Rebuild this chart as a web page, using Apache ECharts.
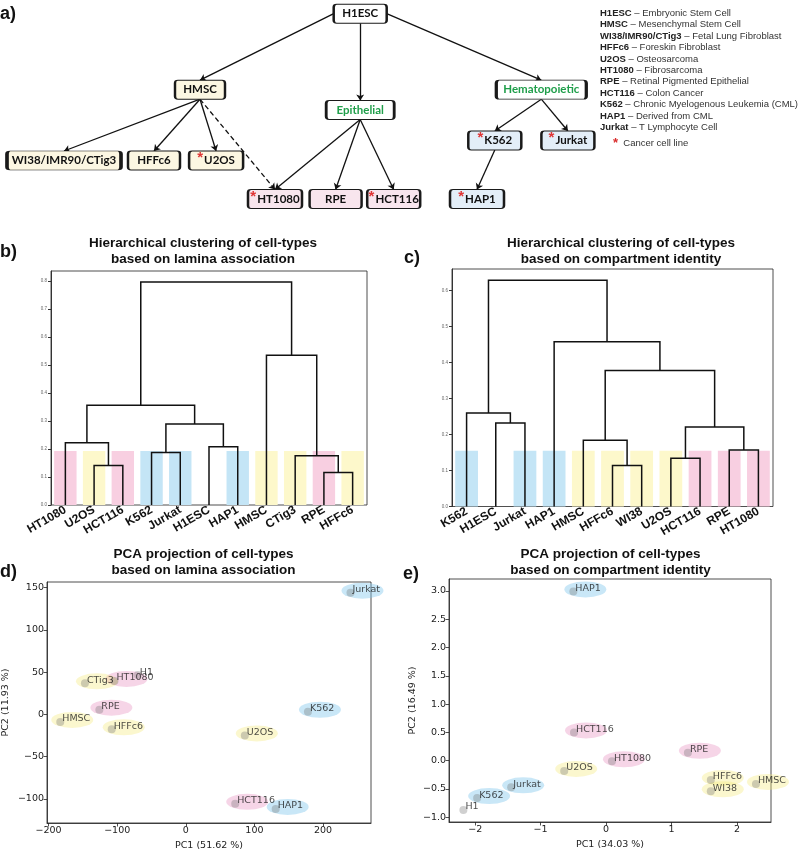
<!DOCTYPE html>
<html><head><meta charset="utf-8">
<script src="https://cdn.jsdelivr.net/npm/echarts@6/dist/echarts.min.js"></script>
<style>html,body{margin:0;padding:0;background:#fff}#c{width:800px;height:853px}</style>
</head><body><div id="c"></div>
<script>
// ================= DATA =================
// Panel a: lineage tree
const treeNodes  = ['H1ESC','HMSC','Epithelial','Hematopoietic','WI38/IMR90/CTig3','HFFc6','U2OS','HT1080','RPE','HCT116','K562','Jurkat','HAP1'];
const treeGroups = ['root','mes','epiGroup','hemGroup','mes','mes','mes','epi','epi','epi','hem','hem','hem'];
const treeCancer = [0,0,0,0,0,0,1,1,0,1,1,1,1];
const treeEdges  = [['H1ESC','HMSC'],['H1ESC','Epithelial'],['H1ESC','Hematopoietic'],
  ['HMSC','WI38/IMR90/CTig3'],['HMSC','HFFc6'],['HMSC','U2OS'],['HMSC','HT1080'],
  ['Epithelial','HT1080'],['Epithelial','RPE'],['Epithelial','HCT116'],
  ['Hematopoietic','K562'],['Hematopoietic','Jurkat'],['K562','HAP1']];
const treeEdgeDashed = [0,0,0,0,0,0,1,0,0,0,0,0,0];
const legendNames = ['H1ESC','HMSC','WI38/IMR90/CTig3','HFFc6','U2OS','HT1080','RPE','HCT116','K562','HAP1','Jurkat'];
const legendDescs = ['Embryonic Stem Cell','Mesenchymal Stem Cell','Fetal Lung Fibroblast','Foreskin Fibroblast','Osteosarcoma','Fibrosarcoma','Retinal Pigmented Epithelial','Colon Cancer','Chronic Myelogenous Leukemia (CML)','Derived from CML','T Lymphocyte Cell'];

// Panel b: dendrogram (lamina association)
const lamLeaves = ['HT1080','U2OS','HCT116','K562','Jurkat','H1ESC','HAP1','HMSC','CTig3','RPE','HFFc6'];
const lamLeafGroups = ['epi','mes','epi','hem','hem','none','hem','mes','mes','epi','mes'];
const lamMerges = [
  ['m1','U2OS','HCT116',0.141], ['m2','HT1080','m1',0.2225], ['m3','K562','Jurkat',0.187],
  ['m4','H1ESC','HAP1',0.208], ['m5','m3','m4',0.289], ['m6','m2','m5',0.356],
  ['m7','RPE','HFFc6',0.116], ['m8','CTig3','m7',0.176], ['m9','HMSC','m8',0.534], ['m10','m6','m9',0.796]];
const lamBandHeight = 0.193;
const lamTicks = [0,0.1,0.2,0.3,0.4,0.5,0.6,0.7,0.8];

// Panel c: dendrogram (compartment identity)
const cmpLeaves = ['K562','H1ESC','Jurkat','HAP1','HMSC','HFFc6','WI38','U2OS','HCT116','RPE','HT1080'];
const cmpLeafGroups = ['hem','none','hem','hem','mes','mes','mes','mes','epi','epi','epi'];
const cmpMerges = [
  ['n1','HFFc6','WI38',0.114], ['n2','HMSC','n1',0.184], ['n3','U2OS','HCT116',0.134],
  ['n4','RPE','HT1080',0.157], ['n5','n3','n4',0.221], ['n6','n2','n5',0.378],
  ['n7','HAP1','n6',0.458], ['n8','H1ESC','Jurkat',0.232], ['n9','K562','n8',0.26], ['n10','n9','n7',0.629]];
const cmpBandHeight = 0.155;
const cmpTicks = [0,0.1,0.2,0.3,0.4,0.5,0.6];

// Panel d: PCA (lamina association)
const pcaLamNames  = ['Jurkat','H1','HT1080','CTig3','RPE','HMSC','HFFc6','U2OS','K562','HCT116','HAP1'];
const pcaLamGroups = ['hem','none','epi','mes','epi','mes','mes','mes','hem','epi','hem'];
const pcaLamX = [240, -70, -104, -147, -126, -183, -108, 86, 178, 72, 131];
const pcaLamY = [144, 46.4, 39.5, 36.6, 5.5, -9, -17.7, -25, 3, -106, -112];
const pcaLamXTicks = [-200,-100,0,100,200];
const pcaLamYTicks = [-100,-50,0,50,100,150];

// Panel e: PCA (compartment identity)
const pcaCmpNames  = ['HAP1','HCT116','RPE','HT1080','U2OS','Jurkat','K562','H1','HFFc6','WI38','HMSC'];
const pcaCmpGroups = ['hem','epi','epi','epi','mes','hem','hem','none','mes','mes','mes'];
const pcaCmpX = [-0.50, -0.49, 1.25, 0.09, -0.64, -1.45, -1.97, -2.18, 1.60, 1.60, 2.29];
const pcaCmpY = [2.99, 0.50, 0.14, -0.01, -0.18, -0.47, -0.66, -0.87, -0.34, -0.54, -0.41];
const pcaCmpXTicks = [-2,-1,0,1,2];
const pcaCmpYTicks = [-1,-0.5,0,0.5,1,1.5,2,2.5,3];

// ================= STYLE / LAYOUT =================
const treeLayout = { // centre x, centre y, box width (diagram pixels)
  'H1ESC':[360.2,13.7,53], 'HMSC':[200,89.7,50], 'Epithelial':[360.2,110,68], 'Hematopoietic':[541.3,89.7,90],
  'WI38/IMR90/CTig3':[64,160.5,114], 'HFFc6':[154,160.5,52], 'U2OS':[216.1,160.5,54],
  'HT1080':[275,199,54], 'RPE':[335.6,199,52], 'HCT116':[393.7,199,53],
  'K562':[494.8,140.5,53], 'Jurkat':[567.9,140.5,53], 'HAP1':[477,199,54]
};
const boxH = 19;
const boxFill = {root:'#ffffff', mes:'#fcf7e2', epiGroup:'#ffffff', hemGroup:'#ffffff', epi:'#f8e5ed', hem:'#e3eef8'};
const bandColor = {mes:'#fdf8cb', epi:'#f8cfe1', hem:'#c4e5f6', none:'rgba(0,0,0,0)'};
const ellColor = {mes:'rgba(245,232,120,0.45)', epi:'rgba(232,150,195,0.5)', hem:'rgba(120,195,235,0.5)', none:'rgba(0,0,0,0)'};
const FONT = 'Liberation Sans';
const minus = s => String(s).replace('-', '\u2212');
function roundBox(w, h, r) {
  return 'path://M' + r + ',0H' + (w - r) + 'Q' + w + ',0,' + w + ',' + r + 'V' + (h - r) +
    'Q' + w + ',' + h + ',' + (w - r) + ',' + h + 'H' + r + 'Q0,' + h + ',0,' + (h - r) + 'V' + r + 'Q0,0,' + r + ',0Z';
}

// ================= BUILD =================
function dendroLines(leaves, merges) {
  const pos = {}, hgt = {};
  leaves.forEach((l, i) => { pos[l] = i; hgt[l] = 0; });
  return merges.map(([id, a, b, h]) => {
    pos[id] = (pos[a] + pos[b]) / 2; hgt[id] = h;
    return { coords: [[pos[a], hgt[a]], [pos[a], h], [pos[b], h], [pos[b], hgt[b]]] };
  });
}

const treeScatter = treeNodes.map((n, i) => {
  const L = treeLayout[n], g = treeGroups[i];
  const tag = (g === 'epiGroup' || g === 'hemGroup') ? 'g' : 't';
  return {
    name: n, value: [L[0], L[1]], symbol: roundBox(L[2], boxH, 3), symbolSize: [L[2], boxH],
    itemStyle: { color: boxFill[g] },
    label: { formatter: (treeCancer[i] ? '{s|*}' : '') + '{' + tag + '|' + n + '}' }
  };
});
const treeLines = treeEdges.map(([a, b], i) => {
  const A = treeLayout[a], B = treeLayout[b];
  let start;
  if (a === 'H1ESC' && Math.abs(B[0] - A[0]) > A[2]) start = [A[0] + Math.sign(B[0] - A[0]) * A[2] / 2, A[1]];
  else start = [A[0], A[1] + boxH / 2];
  return { coords: [start, [B[0], B[1] - boxH / 2]], lineStyle: { type: treeEdgeDashed[i] ? [5, 3] : 'solid' } };
});

function bandData(groups, h) {
  return groups.map(g => ({ value: g === 'none' ? 0 : h, itemStyle: { color: bandColor[g] } }));
}
function pcaData(names, xs, ys, groups) {
  return names.map((n, i) => ({ name: n, value: [xs[i], ys[i]], group: groups[i] }));
}

const dendroCat = (gi, leaves) => ({
  gridIndex: gi, type: 'category', data: leaves, boundaryGap: true,
  axisLine: { show: false }, axisTick: { show: false }, splitLine: { show: false },
  axisLabel: { interval: 0, rotate: 30, margin: 4, fontSize: 12, fontWeight: 'bold', color: '#111', fontFamily: FONT }
});
const dendroVal = gi => ({ gridIndex: gi, type: 'value', min: -0.5, max: 10.5, show: false, position: 'top' });
const dendroY = (gi, max, ticks) => ({
  gridIndex: gi, type: 'value', min: 0, max: max,
  axisLine: { show: true, onZero: false, lineStyle: { color: '#333', width: 1 } },
  axisTick: { show: true, length: 3, customValues: ticks, lineStyle: { color: '#333' } },
  axisLabel: { customValues: ticks, fontSize: 4.5, color: '#666', margin: 4, formatter: v => v.toFixed(1), fontFamily: FONT },
  splitLine: { show: false }
});
const pcaAxis = (gi, min, max, ticks, fmt, name, gap, isY) => ({
  gridIndex: gi, type: 'value', min: min, max: max,
  name: name, nameLocation: 'middle', nameGap: gap, nameRotate: isY ? 90 : 0,
  nameTextStyle: { fontSize: 9.5, color: '#222', fontFamily: 'DejaVu Sans' },
  axisLine: { show: true, onZero: false, lineStyle: { color: '#222', width: 0.8 } },
  axisTick: { show: true, length: 3.5, customValues: ticks, lineStyle: { color: '#222', width: 0.8 } },
  axisLabel: { customValues: ticks, fontSize: 9.5, color: '#222', margin: 3, fontFamily: 'DejaVu Sans', formatter: fmt },
  splitLine: { show: false }
});
const gridBox = { show: true, borderColor: '#222', borderWidth: 0.8, backgroundColor: 'transparent' };

function pcaSeries(xi, yi, data) {
  return [
    { type: 'scatter', xAxisIndex: xi, yAxisIndex: yi, silent: true, z: 2,
      symbol: 'circle', symbolSize: [42, 16], symbolOffset: [12, -2],
      itemStyle: { color: p => ellColor[p.data.group] }, data: data },
    { type: 'scatter', xAxisIndex: xi, yAxisIndex: yi, silent: true, z: 3,
      symbol: 'circle', symbolSize: 8, itemStyle: { color: 'rgba(110,110,110,0.4)' },
      label: { show: true, position: 'right', distance: 0, offset: [-2, -3], formatter: p => p.name,
               fontSize: 9.5, color: '#1a1a1a', fontFamily: 'DejaVu Sans' },
      data: data }
  ];
}

const titleTxt = (x, y, text) => ({
  type: 'text', x: x, y: y, silent: true,
  style: { text: text, fontSize: 13.5, fontWeight: 'bold', fontFamily: FONT, fill: '#111',
           lineHeight: 16, align: 'center', textAlign: 'center', verticalAlign: 'top', textVerticalAlign: 'top' }
});
const letterTxt = (x, y, text) => ({
  type: 'text', x: x, y: y, silent: true,
  style: { text: text, fontSize: 18, fontWeight: 'bold', fontFamily: FONT, fill: '#111',
           align: 'left', textAlign: 'left', verticalAlign: 'top', textVerticalAlign: 'top' }
});
const legendText = legendNames.map((n, i) => '{b|' + n + '}{n| \u2013 ' + legendDescs[i] + '}').join('\n');

const option = {
  animation: false,
  backgroundColor: '#fff',
  textStyle: { fontFamily: FONT },
  grid: [
    { left: 0, top: 0, width: 800, height: 215, show: false },
    Object.assign({ left: 51, top: 271, width: 316, height: 234 }, gridBox),
    Object.assign({ left: 452, top: 269, width: 321, height: 237.5 }, gridBox),
    Object.assign({ left: 46, top: 582, width: 325, height: 241 }, gridBox),
    Object.assign({ left: 449, top: 579, width: 322, height: 243 }, gridBox)
  ],
  xAxis: [
    { gridIndex: 0, type: 'value', min: 0, max: 800, show: false },
    dendroCat(1, lamLeaves), dendroVal(1),
    dendroCat(2, cmpLeaves), dendroVal(2),
    pcaAxis(3, -202.3, 269.9, pcaLamXTicks, v => minus(v), 'PC1 (51.62 %)', 18, false),
    pcaAxis(4, -2.40, 2.52, pcaCmpXTicks, v => minus(v), 'PC1 (34.03 %)', 18, false)
  ],
  yAxis: [
    { gridIndex: 0, type: 'value', min: 0, max: 215, inverse: true, show: false },
    dendroY(1, 0.835, lamTicks),
    dendroY(2, 0.66, cmpTicks),
    pcaAxis(3, -128.7, 156.6, pcaLamYTicks, v => minus(v), 'PC2 (11.93 %)', 36, true),
    pcaAxis(4, -1.083, 3.21, pcaCmpYTicks, v => minus(v.toFixed(1)), 'PC2 (16.49 %)', 31, true)
  ],
  series: [
    { type: 'lines', coordinateSystem: 'cartesian2d', xAxisIndex: 0, yAxisIndex: 0, silent: true, z: 2,
      symbol: ['none', 'arrow'], symbolSize: 6,
      lineStyle: { color: '#111', width: 1.3, opacity: 1 }, data: treeLines },
    { type: 'scatter', xAxisIndex: 0, yAxisIndex: 0, silent: true, z: 3,
      itemStyle: { borderColor: '#1a1a1a', borderWidth: 1.5, opacity: 1 },
      label: { show: true, position: 'inside',
        rich: {
          t: { fontFamily: 'Lato', fontWeight: 'bold', fontSize: 11.5, color: '#111' },
          g: { fontFamily: 'Lato', fontWeight: 'bold', fontSize: 11.5, color: '#1f9e4a' },
          s: { fontFamily: FONT, fontWeight: 'bold', fontSize: 15, color: '#e03535', padding: [0, 1, 5, 0] }
        } },
      data: treeScatter },

    { type: 'bar', xAxisIndex: 1, yAxisIndex: 1, silent: true, barWidth: '78%', z: 1, data: bandData(lamLeafGroups, lamBandHeight) },
    { type: 'lines', coordinateSystem: 'cartesian2d', polyline: true, xAxisIndex: 2, yAxisIndex: 1, silent: true, z: 3,
      lineStyle: { color: '#111', width: 1.5, opacity: 1 }, data: dendroLines(lamLeaves, lamMerges) },

    { type: 'bar', xAxisIndex: 3, yAxisIndex: 2, silent: true, barWidth: '78%', z: 1, data: bandData(cmpLeafGroups, cmpBandHeight) },
    { type: 'lines', coordinateSystem: 'cartesian2d', polyline: true, xAxisIndex: 4, yAxisIndex: 2, silent: true, z: 3,
      lineStyle: { color: '#111', width: 1.5, opacity: 1 }, data: dendroLines(cmpLeaves, cmpMerges) },

    ...pcaSeries(5, 3, pcaData(pcaLamNames, pcaLamX, pcaLamY, pcaLamGroups)),
    ...pcaSeries(6, 4, pcaData(pcaCmpNames, pcaCmpX, pcaCmpY, pcaCmpGroups))
  ],
  graphic: [
    letterTxt(0, 5, 'a)'), letterTxt(0, 243, 'b)'), letterTxt(404, 249, 'c)'),
    letterTxt(0, 563, 'd)'), letterTxt(403, 565, 'e)'),
    titleTxt(203, 235, 'Hierarchical clustering of cell-types\nbased on lamina association'),
    titleTxt(621, 235, 'Hierarchical clustering of cell-types\nbased on compartment identity'),
    titleTxt(203.5, 546, 'PCA projection of cell-types\nbased on lamina association'),
    titleTxt(610.5, 546, 'PCA projection of cell-types\nbased on compartment identity'),
    { type: 'text', x: 600, y: 7.6, silent: true,
      style: { text: legendText, fontSize: 9.5, fontFamily: FONT, fill: '#222', lineHeight: 11.4,
        rich: { b: { fontWeight: 'bold', fontSize: 9.5, fontFamily: FONT, fill: '#222', lineHeight: 11.4 },
                n: { fontWeight: 'normal', fontSize: 9.5, fontFamily: FONT, fill: '#333', lineHeight: 11.4 } } } },
    { type: 'text', x: 613, y: 137, silent: true,
      style: { text: '{r|*}  {n|Cancer cell line}', fontSize: 9.5, fontFamily: FONT, fill: '#333',
        rich: { r: { fontSize: 13, fontWeight: 'bold', fill: '#d92b2b', fontFamily: FONT },
                n: { fontSize: 9.5, fill: '#333', fontFamily: FONT } } } }
  ]
};
echarts.init(document.getElementById('c'), null, { renderer: 'canvas' }).setOption(option);
</script></body></html>
